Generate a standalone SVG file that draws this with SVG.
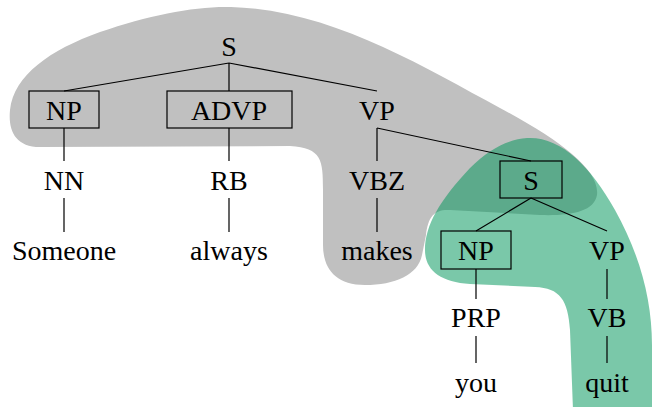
<svg xmlns="http://www.w3.org/2000/svg" width="654" height="407" viewBox="0 0 654 407">
<rect width="654" height="407" fill="#fff"/>
<path id="gray-blob" fill="#c0c0c0" d="M 231 7 C 330 10 420 65 500 108 C 560 140 600 170 597 195 C 594 212 570 216 540 215 L 450 210 C 435 209 428 216 426 235 L 422 255 C 418 275 395 285 365 285 C 335 285 323 268 323 245 L 323 190 C 323 160 322 148 290 146 L 40 147 C 15 147 8 130 10 110 C 14 75 50 50 100 32 C 150 15 195 6 231 7 Z"/>
<path id="green-blob" fill="rgb(0,150,90)" fill-opacity="0.52" d="M 527 138 C 560 136 590 165 615 210 C 640 255 652 300 652 345 L 652 410 L 573 410 L 570 330 C 568 300 560 288 535 287 L 470 284 C 440 282 425 270 425 250 C 425 225 440 200 470 168 C 490 148 510 139 527 138 Z"/>
<g id="connectors" stroke="#000" stroke-width="1.2" fill="none">
<path d="M229 63 L64 91 M229 63 L229 91 M229 63 L377 91"/>
<path d="M64 128 L64 161 M64 198 L64 232"/>
<path d="M229 128 L229 161 M229 198 L229 232"/>
<path d="M377 128 L377 161 M377 198 L377 232"/>
<path d="M377 128 L531 161"/>
<path d="M531 198 L476 231 M531 198 L607 231"/>
<path d="M476 269 L476 299 M476 336 L476 363"/>
<path d="M607 269 L607 299 M607 336 L607 363"/>
</g>
<g id="S"><text x="229" y="56" font-size="28" font-family="'Liberation Serif'" text-anchor="middle">S</text></g>
<g id="NP"><rect x="29" y="91" width="70" height="37" fill="none" stroke="#000" stroke-width="1.2"/><text x="64" y="120" font-size="28" font-family="'Liberation Serif'" text-anchor="middle">NP</text></g>
<g id="ADVP"><rect x="167" y="91" width="125" height="37" fill="none" stroke="#000" stroke-width="1.2"/><text x="229" y="120" font-size="28" font-family="'Liberation Serif'" text-anchor="middle">ADVP</text></g>
<g id="VP"><text x="377" y="120" font-size="28" font-family="'Liberation Serif'" text-anchor="middle">VP</text></g>
<g id="NN"><text x="64" y="190" font-size="28" font-family="'Liberation Serif'" text-anchor="middle">NN</text></g>
<g id="RB"><text x="229" y="190" font-size="28" font-family="'Liberation Serif'" text-anchor="middle">RB</text></g>
<g id="VBZ"><text x="377" y="190" font-size="28" font-family="'Liberation Serif'" text-anchor="middle">VBZ</text></g>
<g id="Someone"><text x="64" y="260" font-size="28" font-family="'Liberation Serif'" text-anchor="middle">Someone</text></g>
<g id="always"><text x="229" y="260" font-size="28" font-family="'Liberation Serif'" text-anchor="middle">always</text></g>
<g id="makes"><text x="377" y="260" font-size="28" font-family="'Liberation Serif'" text-anchor="middle">makes</text></g>
<g id="S2"><rect x="500" y="161" width="62" height="37" fill="none" stroke="#000" stroke-width="1.2"/><text x="531" y="190" font-size="28" font-family="'Liberation Serif'" text-anchor="middle">S</text></g>
<g id="NP2"><rect x="441" y="231" width="70" height="38" fill="none" stroke="#000" stroke-width="1.2"/><text x="476" y="260" font-size="28" font-family="'Liberation Serif'" text-anchor="middle">NP</text></g>
<g id="VP2"><text x="607" y="260" font-size="28" font-family="'Liberation Serif'" text-anchor="middle">VP</text></g>
<g id="PRP"><text x="476" y="327" font-size="28" font-family="'Liberation Serif'" text-anchor="middle">PRP</text></g>
<g id="VB"><text x="607" y="327" font-size="28" font-family="'Liberation Serif'" text-anchor="middle">VB</text></g>
<g id="you"><text x="476" y="392" font-size="28" font-family="'Liberation Serif'" text-anchor="middle">you</text></g>
<g id="quit"><text x="607" y="392" font-size="28" font-family="'Liberation Serif'" text-anchor="middle">quit</text></g>
</svg>
